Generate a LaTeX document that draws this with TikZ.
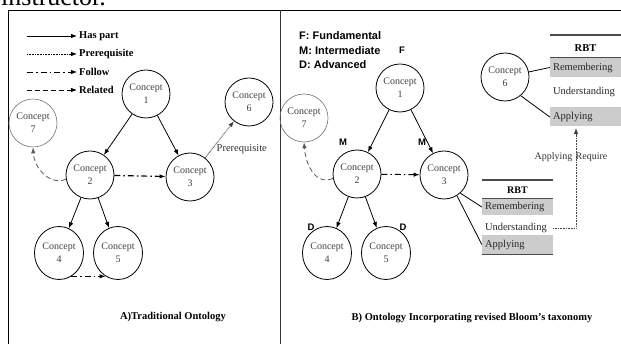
\documentclass[tikz,border=0pt]{standalone}
\usepackage{fontspec}
\setmainfont{Liberation Serif}
\newfontfamily\arialf{Liberation Sans}
\usetikzlibrary{arrows.meta,shapes.geometric}
\tikzset{
  concept/.style={circle, draw, line width=0.8pt, minimum size=48pt, inner sep=0pt,
    align=center, text=black!75, font=\fontsize{10}{13}\selectfont},
  concepttall/.style={ellipse, draw, line width=0.8pt, minimum width=49pt, minimum height=53pt,
    inner sep=0pt, align=center, text=black!75, font=\fontsize{10}{13}\selectfont},
  arr/.style={-{Latex[length=6pt,width=4.5pt]}, line width=0.8pt},
  haspart/.style={arr},
  prereq/.style={arr, dash pattern=on 0.8pt off 0.8pt, draw=black!75},
  follow/.style={arr, line width=1.2pt, dash pattern=on 6pt off 3pt on 1.5pt off 3pt},
  related/.style={arr, dash pattern=on 5pt off 3pt, draw=black!65},
  legtext/.style={anchor=west, inner sep=0pt, font=\bfseries\fontsize{10.5}{12}\selectfont},
  lvl/.style={inner sep=0pt, font=\arialf\bfseries\fontsize{9.5}{10}\selectfont},
  lgd/.style={inner sep=0pt, anchor=west, font=\arialf\bfseries\fontsize{11}{12}\selectfont},
  caption/.style={inner sep=0pt, font=\bfseries\fontsize{10.5}{12}\selectfont},
  rowbox/.style={fill=black!20, inner xsep=3pt, inner ysep=0pt, text width=65pt,
    minimum height=19pt, align=left, font=\fontsize{10.5}{12}\selectfont, text=black!85},
  rowplain/.style={rowbox, fill=none},
  rule/.style={line width=1.1pt, draw=black!70}
}
\begin{document}
\begin{tikzpicture}[x=1pt,y=-1pt]
\useasboundingbox (0,0) rectangle (621,344);
% heading text cut by the top edge, as in the reference
\node[anchor=base west, inner sep=0pt, font=\fontsize{26}{26}\selectfont] (hdr) at (1,6) {instructor.};
% frames
\draw[line width=0.8pt] (8,344) -- (8,10) -- (621,10);
\draw[line width=1.6pt, draw=black!80] (280.5,10) -- (280.5,344);

% ---------------- Left panel ----------------
\coordinate (l1a) at (27,36); \coordinate (l1b) at (77,36);
\coordinate (l2a) at (27,54); \coordinate (l2b) at (77,54);
\coordinate (l3a) at (27,72); \coordinate (l3b) at (77,72);
\coordinate (l4a) at (27,90); \coordinate (l4b) at (77,90);
\draw[haspart] (l1a) -- (l1b);
\draw[prereq, draw=black] (l2a) -- (l2b);
\draw[follow, line width=0.8pt] (l3a) -- (l3b);
\draw[related, draw=black] (l4a) -- (l4b);
\node[legtext] (tl1) at (79,36) {Has part};
\node[legtext] (tl2) at (79,54) {Prerequisite};
\node[legtext] (tl3) at (79,72) {Follow};
\node[legtext] (tl4) at (79,90) {Related};

\node[concept] (c1) at (146,94) {Concept\\1};
\node[concept] (c2) at (90,175) {Concept\\2};
\node[concept] (c3) at (190,177) {Concept\\3};
\node[concepttall] (c4) at (59,253) {Concept\\4};
\node[concepttall] (c5) at (118,253) {Concept\\5};
\node[concept] (c6) at (249,102) {Concept\\6};
\node[concept, draw=black!55, line width=0.6pt] (c7) at (33,123) {Concept\\7};

\draw[haspart] (c1) -- (c2);
\draw[haspart] (c1) -- (c3);
\draw[haspart] (c2) -- (c4);
\draw[haspart] (c2) -- (c5);
\draw[follow] (c2) -- (c3);
\draw[follow, line width=1pt] (c4.-62) -- (c5.-118);
\draw[prereq] (c3) -- (c6) node[pos=0.25, anchor=west, inner sep=0pt, xshift=4pt,
  font=\fontsize{10.5}{12}\selectfont, text=black!80] (lp) {Prerequisite};
\draw[related] (c2.190) .. controls (50,186) and (34,168) .. (c7.south);

\node[caption] (capA) at (173,317) {A)Traditional Ontology};

% ---------------- Right panel ----------------
\node[lgd] (lg1) at (299,36) {F: Fundamental};
\node[lgd] (lg2) at (299,51) {M: Intermediate};
\node[lgd] (lg3) at (299,65) {D: Advanced};

\node[concept] (C1) at (400,88) {Concept\\1};
\node[concept] (C2) at (357,174) {Concept\\2};
\node[concept] (C3) at (444,175) {Concept\\3};
\node[concepttall] (C4) at (327,253) {Concept\\4};
\node[concepttall] (C5) at (386,253) {Concept\\5};
\node[concept] (C6) at (505,77) {Concept\\6};
\node[concept, draw=black!55, line width=0.6pt] (C7) at (304,118) {Concept\\7};

\node[lvl] (fF) at (402,50) {F};
\node[lvl] (fM1) at (343,142) {M};
\node[lvl] (fM2) at (422,142) {M};
\node[lvl] (fD1) at (311,227) {D};
\node[lvl] (fD2) at (403,227) {D};

\draw[haspart] (C1) -- (C2);
\draw[haspart] (C1) -- (C3);
\draw[haspart] (C2) -- (C4);
\draw[haspart] (C2) -- (C5);
\draw[follow, line width=1pt] (C2) -- (C3);
\draw[related] (C2.190) .. controls (318,186) and (306,168) .. (C7.south);

% upper RBT table (Concept 6)
\draw[rule] (550,35) -- (621,35);
\node[font=\bfseries\fontsize{10.5}{12}\selectfont, inner sep=0pt] (rbt1) at (585.5,48) {RBT};
\node[rowbox] (rem1) at (585.5,67.5) {Remembering};
\node[rowplain] (und1) at (585.5,92) {Understanding};
\node[rowbox] (app1) at (585.5,117) {Applying};
\draw[rule] (rem1.north west) -- (rem1.north east);
\draw[line width=0.8pt] (C6.12) -- (rem1.west);
\draw[line width=0.8pt] (C6.-50) -- (app1.west);

% lower RBT table (Concept 3)
\draw[rule] (482,180) -- (553,180);
\node[font=\bfseries\fontsize{10}{11}\selectfont, inner sep=0pt] (rbt2) at (517.5,190) {RBT};
\node[rowbox, minimum height=17pt] (rem2) at (517.5,207) {Remembering};
\node[rowplain, minimum height=17pt] (und2) at (517.5,228) {Understanding};
\node[rowbox, minimum height=19pt] (app2) at (517.5,244.5) {Applying};
\draw[rule] (rem2.north west) -- (rem2.north east);
\draw[rule] (app2.south west) -- (app2.south east);
\draw[line width=0.8pt] (C3.-48) -- (rem2.west);
\draw[line width=0.8pt] (C3.-58) -- (app2.west);

% Applying require connector
\coordinate (tip) at (576,128);
\draw[prereq] (und2.east) -| (tip);
\node[inner sep=0pt, font=\fontsize{10}{11}\selectfont, text=black!80] (req) at (571,157) {Applying\,\,Require};

\node[caption] (capB) at (472,318) {B) Ontology Incorporating revised Bloom’s taxonomy};
\end{tikzpicture}
\end{document}
